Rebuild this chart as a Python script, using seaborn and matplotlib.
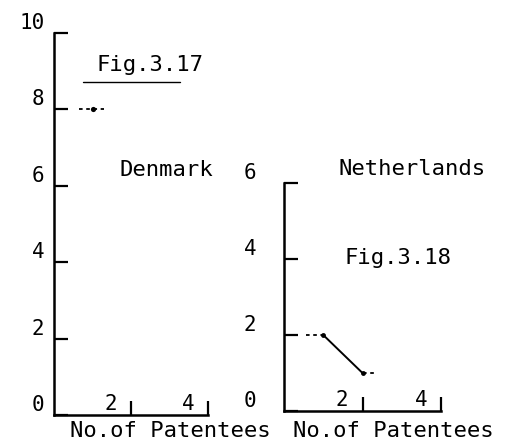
import matplotlib
matplotlib.use("Agg")
import matplotlib.pyplot as plt
from matplotlib.lines import Line2D
import pandas as pd
import seaborn as sns

# Denmark (Fig.3.17) and Netherlands (Fig.3.18)
dk_patentees = [1]
dk_count = [8]
nl_patentees = [1, 2]
nl_count = [2, 1]

dk_yticks = [0, 2, 4, 6, 8, 10]
nl_yticks = [0, 2, 4, 6]
xticks = [2, 4]

sns.set_style("white")
plt.rcParams["font.family"] = ["DejaVu Sans Mono", "DejaVu Sans"]
plt.rcParams["text.color"] = "black"
FS = 16     # titles / axis text
TFS = 15    # tick digits
W, H = 522, 448


def fx(px):
    return px / W


def fy(py):
    return 1 - py / H


def style_axis(ax, ymax, yticks, ypad):
    ax.set_xlim(0, 4)
    ax.set_ylim(0, ymax)
    for s in ["top", "right"]:
        ax.spines[s].set_visible(False)
    for s in ["left", "bottom"]:
        ax.spines[s].set_linewidth(1.8)
        ax.spines[s].set_color("black")
    ax.set_yticks(yticks, [str(v) for v in yticks])
    ax.set_xticks(xticks, ["" for _ in xticks])
    ax.tick_params(axis="both", direction="in", length=10, width=1.6, color="black",
                   labelsize=TFS, labelcolor="black", left=True, bottom=True)
    ax.tick_params(axis="y", pad=ypad)
    for t in ax.get_yticklabels():
        t.set_va("bottom")
    for v in xticks:
        ax.annotate(str(v), xy=(v, 0), xytext=(-10, 1), textcoords="offset points",
                    ha="right", va="bottom", fontsize=TFS, color="black")
    ax.set_xlabel("")
    ax.set_ylabel("")
    ax.patch.set_alpha(0)


fig = plt.figure(figsize=(W / 100, H / 100), dpi=100)
ax1 = fig.add_axes([fx(54), fy(415), fx(154), 382 / H])
ax2 = fig.add_axes([fx(284), fy(411), fx(157), 228 / H])

dk = pd.DataFrame({"x": dk_patentees, "y": dk_count})
nl = pd.DataFrame({"x": nl_patentees, "y": nl_count})

# Denmark: single point with dashed stubs either side
sns.scatterplot(data=dk, x="x", y="y", color="black", s=14, linewidth=0, ax=ax1)
ax1.hlines(dk["y"], dk["x"] - 0.35, dk["x"] + 0.3, colors="black",
           linestyles=(0, (2, 2)), linewidth=1.3)

# Netherlands: solid line between points, dashed lead-in and tail
sns.lineplot(data=nl, x="x", y="y", color="black", linewidth=1.4,
             marker="o", markersize=3.5, markeredgewidth=0, ax=ax2)
ax2.hlines(nl["y"].iloc[0], nl["x"].iloc[0] - 0.45, nl["x"].iloc[0], colors="black",
           linestyles=(0, (2, 2)), linewidth=1.3)
ax2.hlines(nl["y"].iloc[-1], nl["x"].iloc[-1], nl["x"].iloc[-1] + 0.3, colors="black",
           linestyles=(0, (2, 2)), linewidth=1.3)

style_axis(ax1, 10, dk_yticks, 7)
style_axis(ax2, 6, nl_yticks, 20)

fig.text(fx(150), fy(65), "Fig.3.17", fontsize=FS, va="center", ha="center")
fig.add_artist(Line2D([fx(83), fx(180)], [fy(82), fy(82)], color="black", linewidth=1.0))
fig.text(fx(166), fy(170), "Denmark", fontsize=FS, va="center", ha="center")
fig.text(fx(412), fy(169), "Netherlands", fontsize=FS, va="center", ha="center")
fig.text(fx(398), fy(258), "Fig.3.18", fontsize=FS, va="center", ha="center")
fig.text(fx(170), fy(431), "No.of Patentees", fontsize=FS, va="center", ha="center")
fig.text(fx(293), fy(431), "No.of Patentees", fontsize=FS, va="center", ha="left")

fig.savefig("out.png", dpi=100, facecolor="white")
